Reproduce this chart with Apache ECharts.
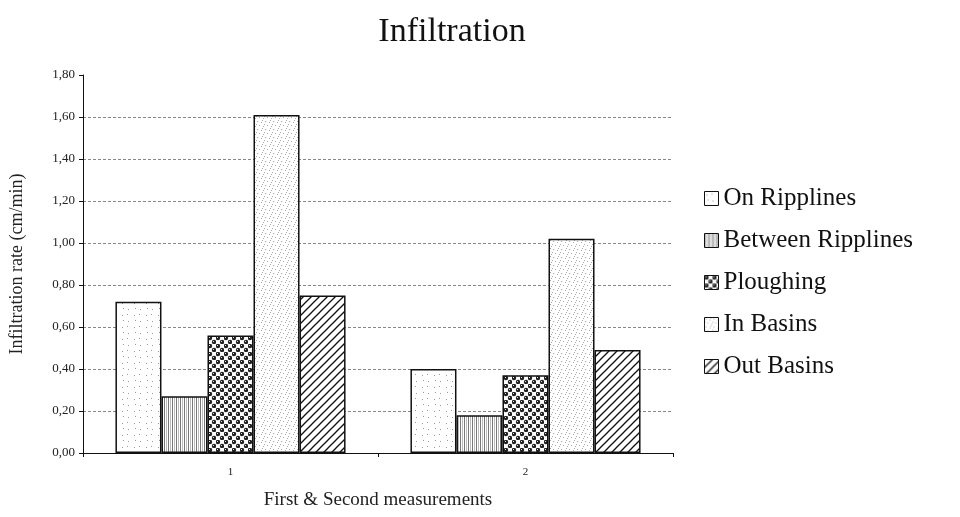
<!DOCTYPE html>
<html><head><meta charset="utf-8">
<script src="https://cdn.jsdelivr.net/npm/echarts@6/dist/echarts.min.js"></script>
<style>html,body{margin:0;padding:0;background:#fff}#c{width:960px;height:517px}</style>
</head><body><div id="c"></div>
<script>
const categories = ['1', '2'];
const seriesNames = ['On Ripplines', 'Between Ripplines', 'Ploughing', 'In Basins', 'Out Basins'];
const onRipplines = [0.72, 0.40];
const betweenRipplines = [0.27, 0.18];
const ploughing = [0.56, 0.37];
const inBasins = [1.61, 1.02];
const outBasins = [0.75, 0.49];
const seriesValues = [onRipplines, betweenRipplines, ploughing, inBasins, outBasins];

function mk(w, h, draw) {
  const c = document.createElement('canvas');
  c.width = w; c.height = h;
  const g = c.getContext('2d');
  g.fillStyle = '#fff'; g.fillRect(0, 0, w, h);
  draw(g);
  return c;
}
const patterns = [
  mk(12, 12, g => { g.fillStyle = '#999'; g.fillRect(2, 3, 1, 1); g.fillRect(8, 9, 1, 1); g.fillRect(7, 2, 1, 1); g.fillRect(3, 8, 1, 1); }),
  mk(4, 4, g => { g.fillStyle = '#777'; g.fillRect(0, 0, 1, 4); g.fillStyle = '#bbb'; g.fillRect(2, 0, 1, 4); }),
  mk(8, 8, g => {
    g.fillStyle = '#222';
    g.beginPath(); g.arc(2, 2, 2.2, 0, Math.PI * 2); g.fill();
    g.beginPath(); g.arc(6, 6, 2.2, 0, Math.PI * 2); g.fill();
    g.fillStyle = '#ddd'; g.fillRect(1, 1, 1, 1); g.fillRect(5, 5, 1, 1);
  }),
  mk(8, 8, g => { g.fillStyle = '#aaa'; g.fillRect(1, 1, 1, 1); g.fillRect(5, 2, 1, 1); g.fillRect(3, 5, 1, 1); g.fillRect(7, 6, 1, 1); g.fillRect(0, 4, 1, 1); g.fillRect(6, 0, 1, 1); }),
  mk(8, 8, g => {
    g.strokeStyle = '#111'; g.lineWidth = 1.3;
    g.beginPath(); g.moveTo(-1, 9); g.lineTo(9, -1); g.stroke();
    g.beginPath(); g.moveTo(-5, 5); g.lineTo(5, -5); g.stroke();
    g.beginPath(); g.moveTo(3, 13); g.lineTo(13, 3); g.stroke();
  })
];

const serif = '"Liberation Serif", "DejaVu Serif", serif';
const chart = echarts.init(document.getElementById('c'));
chart.setOption({
  animation: false,
  title: { text: 'Infiltration', left: 447, top: 10, textAlign: 'center',
    textStyle: { fontFamily: serif, fontSize: 34, fontWeight: 'normal', color: '#111' } },
  legend: {
    orient: 'vertical', left: 699, top: 181, itemGap: 17, itemWidth: 14, itemHeight: 14,
    icon: 'rect', itemStyle: { borderWidth: 1 },
    textStyle: { fontFamily: serif, fontSize: 25, color: '#111' },
    data: seriesNames
  },
  grid: { left: 83, right: 287, top: 75, bottom: 64 },
  xAxis: {
    type: 'category', data: categories,
    name: 'First & Second measurements', nameLocation: 'middle', nameGap: 38,
    nameTextStyle: { fontFamily: serif, fontSize: 19, color: '#222' },
    axisLine: { lineStyle: { color: '#111', width: 1 } },
    axisTick: { show: true, length: 4, lineStyle: { color: '#111' } },
    axisLabel: { fontFamily: serif, fontSize: 11, color: '#222', margin: 14 }
  },
  yAxis: {
    type: 'value', min: 0, max: 1.8, interval: 0.2,
    name: 'Infiltration rate (cm/min)', nameLocation: 'middle', nameGap: 57,
    nameTextStyle: { fontFamily: serif, fontSize: 18, color: '#222' },
    axisLine: { show: true, lineStyle: { color: '#111', width: 1 } },
    axisTick: { show: true, length: 4, lineStyle: { color: '#111' } },
    axisLabel: { fontFamily: serif, fontSize: 13, color: '#222', margin: 8,
      formatter: v => v.toFixed(2).replace('.', ',') },
    splitLine: { show: true, showMaxLine: false, lineStyle: { color: '#888', type: [3, 2], width: 1 } }
  },
  series: seriesNames.map((n, i) => ({
    name: n, type: 'bar', data: seriesValues[i],
    barGap: '0%', barCategoryGap: '22%',
    itemStyle: { color: { image: patterns[i], repeat: 'repeat' }, borderColor: '#111', borderWidth: 1.5 }
  }))
});
</script></body></html>
